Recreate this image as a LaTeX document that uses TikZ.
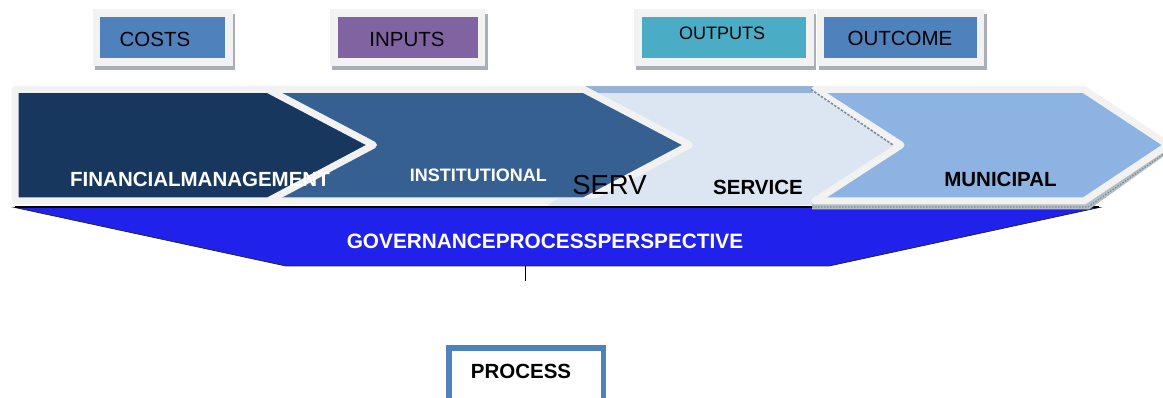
\documentclass[tikz,border=0pt]{standalone}
\usepackage{fontspec}
\setmainfont{Liberation Sans}
\usetikzlibrary{calc,backgrounds}
\definecolor{frameg}{HTML}{F2F2F2}
\definecolor{navy}{HTML}{17375E}
\definecolor{midblue}{HTML}{366092}
\definecolor{pale}{HTML}{DCE6F2}
\definecolor{paleband}{HTML}{95B3D7}
\definecolor{skyblue}{HTML}{8DB3E2}
\definecolor{govblue}{HTML}{2121EC}
\definecolor{costblue}{HTML}{4F81BD}
\definecolor{inpurple}{HTML}{8064A2}
\definecolor{outteal}{HTML}{4BACC6}
\definecolor{shadowg}{HTML}{A9AEB9}
\definecolor{bevelg}{HTML}{B4BEC5}
\definecolor{beveldk}{HTML}{7E8C96}
\begin{document}
\begin{tikzpicture}[x=1pt,y=-1pt,
  topbox/.style={draw=frameg, line width=7.5pt, minimum height=49.1pt, inner sep=0pt, outer sep=0pt},
  chev/.style={draw=frameg, line width=7pt, line join=round},
  toplbl/.style={font=\fontsize{20.5pt}{24pt}\selectfont, text=black, inner sep=0pt},
  whitelbl/.style={font=\bfseries\fontsize{20.5pt}{24pt}\selectfont, text=white, inner sep=0pt},
  blacklbl/.style={font=\bfseries\fontsize{20.5pt}{24pt}\selectfont, text=black, inner sep=0pt},
  boxshadow/.style={fill=shadowg}
  ]
\useasboundingbox (0,0) rectangle (1163,398);
\begin{scope}[on background layer]
  \fill[white] (0,0) rectangle (1163,398);
\end{scope}
\clip (0,0) rectangle (1163,398);

% governance trapezoid
\fill[govblue, draw=black!85, line width=0.8pt] (15,207.5) -- (1099,207.5) -- (829,266) -- (286,266) -- cycle;
\draw[black, line width=2pt] (15,207.5) -- (1099,207.5);
\node[whitelbl, font=\bfseries\fontsize{20.8pt}{24pt}\selectfont] (gov) at (545,241.7) {GOVERNANCEPROCESSPERSPECTIVE};
\coordinate (govbottom) at (525,266);
\coordinate (stub) at (525,281);
\draw[black, line width=1pt] (govbottom) -- (stub);

% chevron 3 (pale)
\fill[pale] (540,93) -- (910,93) -- (910,205.5) -- (549,205.5) -- cycle;
\fill[paleband] (560,86) rectangle (820,93);

% chevron 2
\path[chev, fill=midblue] (250,89.5) -- (584,89.5) -- (689.5,145) -- (584,201) -- (250,201) -- cycle;
\fill[pale] (548,205.5) -- (558,198.5) -- (600,198.5) -- (600,205.5) -- cycle;

% chevron 1
\path[chev, fill=navy] (15,89.5) -- (268,89.5) -- (373.5,145) -- (268,201) -- (15,201) -- cycle;

% chevron 4 with 3D edge
\fill[bevelg] (812,201) -- (1084,201) -- (1168,145) -- (1168,153) -- (1089,209.5) -- (812,209.5) -- cycle;
\draw[beveldk, line width=1.2pt, dash pattern=on 1.5pt off 1.5pt] (812,207) -- (1088,207) -- (1168,151);
\path[chev, fill=skyblue] (815,89.5) -- (1084,89.5) -- (1168,145) -- (1084,201) -- (815,201) -- (901,145) -- cycle;
\draw[beveldk, line width=1.6pt, dash pattern=on 2.5pt off 1.5pt] (811,89.5) -- (893,145);

% chevron labels
\node[whitelbl] (fin) at (200,179) {FINANCIALMANAGEMENT};
\node[whitelbl, font=\bfseries\fontsize{18pt}{22pt}\selectfont] (inst) at (478.3,175) {INSTITUTIONAL};
\node[inner sep=0pt, font=\fontsize{27.5pt}{32pt}\selectfont] (serv) at (609.5,185) {SERV};
\node[blacklbl] (service) at (758,187.5) {SERVICE};
\node[blacklbl] (muni) at (1000.5,179) {MUNICIPAL};

% top boxes
\node[topbox, fill=costblue, minimum width=132.5pt] (costs) at (162.6,37.5) {};
\node[topbox, fill=inpurple, minimum width=147.5pt] (inputs) at (407.5,37.5) {};
\node[topbox, fill=outteal, minimum width=172pt] (outputs) at (723.75,37.5) {};
\node[topbox, fill=costblue, minimum width=159.7pt] (outcome) at (900.4,37.5) {};
\begin{scope}[on background layer]
  \foreach \b in {costs,inputs,outputs,outcome}{
    \fill[boxshadow] ($(\b.north west)+(-1.75,0.75)$) rectangle ($(\b.south east)+(6.25,8.45)$);
  }
\end{scope}
\node[toplbl] (costs-t) at (155,39) {COSTS};
\node[toplbl] (inputs-t) at (407,39) {INPUTS};
\node[toplbl, font=\fontsize{18pt}{22pt}\selectfont] (outputs-t) at (722,33) {OUTPUTS};
\node[toplbl] (outcome-t) at (900,38) {OUTCOME};

% process box
\node[draw=costblue, line width=5.5pt, fill=white, minimum width=154.5pt, minimum height=62.25pt, inner sep=0pt] (procbox) at (526,378.9) {};
\node[blacklbl] (process) at (521,371.7) {PROCESS};
\end{tikzpicture}
\end{document}
